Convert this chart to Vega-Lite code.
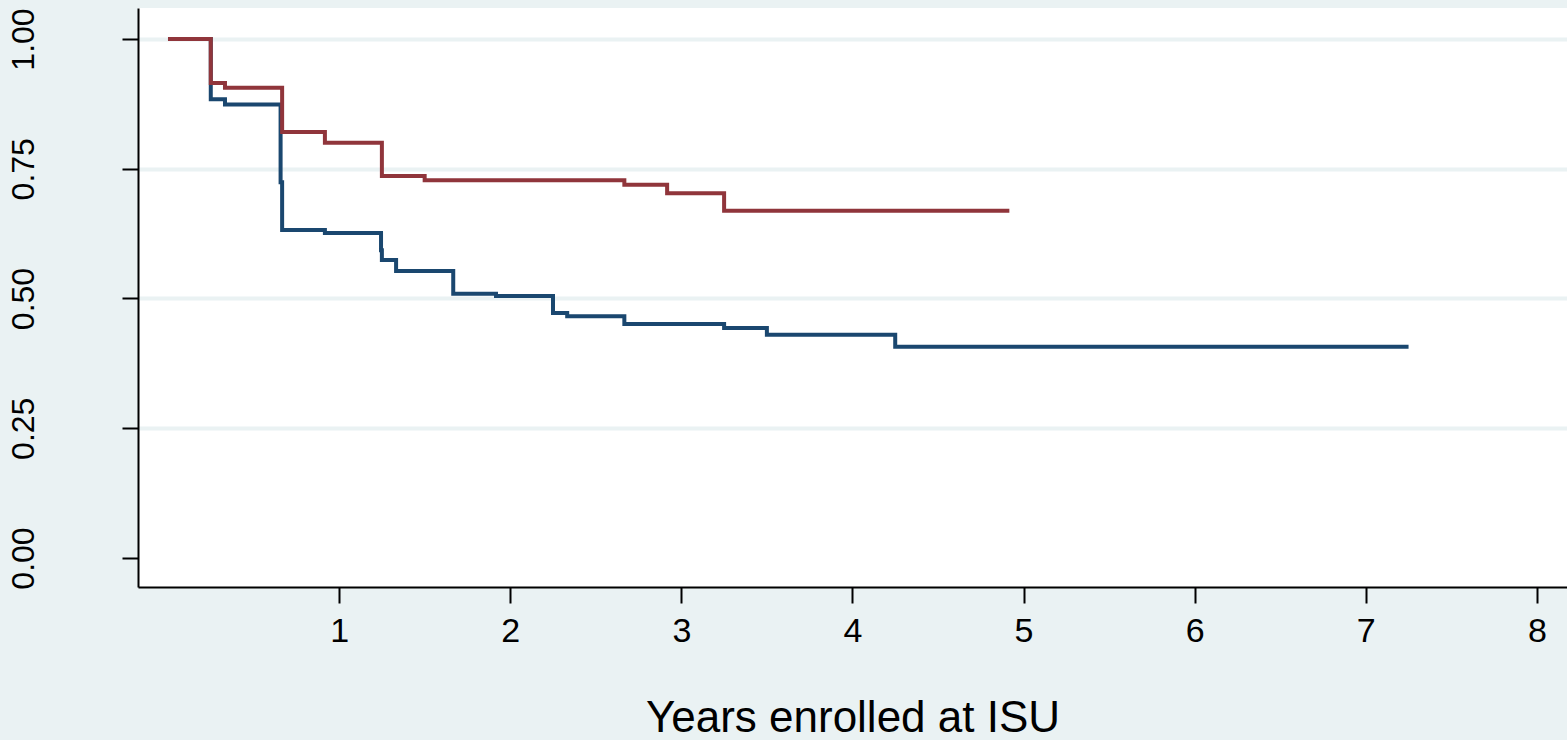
{
  "$schema": "https://vega.github.io/schema/vega-lite/v6.json",
  "width": 1429,
  "height": 579,
  "autosize": {"type": "none"},
  "padding": {"left": 138, "top": 8, "right": 0, "bottom": 153},
  "background": "#EAF2F3",
  "config": {
    "view": {"fill": "white", "stroke": null},
    "font": "Liberation Sans"
  },
  "datasets": {
    "blue": [
      {"t": 0, "s": 1},
      {"t": 0.25, "s": 0.884},
      {"t": 0.333, "s": 0.874},
      {"t": 0.658, "s": 0.724},
      {"t": 0.667, "s": 0.632},
      {"t": 0.917, "s": 0.626},
      {"t": 1.245, "s": 0.593},
      {"t": 1.25, "s": 0.574},
      {"t": 1.333, "s": 0.553},
      {"t": 1.667, "s": 0.509},
      {"t": 1.917, "s": 0.505},
      {"t": 2.25, "s": 0.472},
      {"t": 2.333, "s": 0.466},
      {"t": 2.667, "s": 0.451},
      {"t": 3.25, "s": 0.443},
      {"t": 3.5, "s": 0.43},
      {"t": 4.25, "s": 0.407},
      {"t": 7.25, "s": 0.407}
    ],
    "red": [
      {"t": 0, "s": 1},
      {"t": 0.25, "s": 0.915},
      {"t": 0.333, "s": 0.906},
      {"t": 0.667, "s": 0.821},
      {"t": 0.917, "s": 0.8},
      {"t": 1.25, "s": 0.736},
      {"t": 1.5, "s": 0.728},
      {"t": 2.667, "s": 0.719},
      {"t": 2.917, "s": 0.703},
      {"t": 3.25, "s": 0.669},
      {"t": 4.917, "s": 0.669}
    ]
  },
  "layer": [
    {
      "data": {"name": "blue"},
      "mark": {"type": "line", "interpolate": "step-after", "color": "#1A476F", "strokeWidth": 4, "clip": true},
      "encoding": {
        "x": {
          "field": "t", "type": "quantitative",
          "scale": {"domain": [-0.1753, 8.176], "nice": false, "zero": false},
          "axis": {
            "values": [1, 2, 3, 4, 5, 6, 7, 8],
            "format": "d",
            "grid": false,
            "domainColor": "black", "domainWidth": 2,
            "tickColor": "black", "tickWidth": 2, "tickSize": 16,
            "labelFontSize": 34, "labelColor": "black", "labelPadding": 11,
            "title": "Years enrolled at ISU",
            "titleFontSize": 44, "titleFontWeight": "normal", "titleColor": "black",
            "titleBaseline": "alphabetic", "titleY": 144
          }
        },
        "y": {
          "field": "s", "type": "quantitative",
          "scale": {"domain": [-0.0559, 1.0597], "nice": false, "zero": false},
          "axis": {
            "values": [0, 0.25, 0.5, 0.75, 1],
            "format": ".2f",
            "grid": true,
            "gridColor": "#EAF2F3", "gridWidth": 4,
            "gridOpacity": {"condition": {"test": "datum.value === 0", "value": 0}, "value": 1},
            "domainColor": "black", "domainWidth": 2,
            "tickColor": "black", "tickWidth": 2, "tickSize": 16,
            "labelFontSize": 32, "labelColor": "black",
            "labelAngle": -90, "labelAlign": "center", "labelBaseline": "alphabetic",
            "labelPadding": 89,
            "title": null
          }
        }
      }
    },
    {
      "data": {"name": "red"},
      "mark": {"type": "line", "interpolate": "step-after", "color": "#90353B", "strokeWidth": 4, "clip": true},
      "encoding": {
        "x": {"field": "t", "type": "quantitative"},
        "y": {"field": "s", "type": "quantitative"}
      }
    }
  ]
}
